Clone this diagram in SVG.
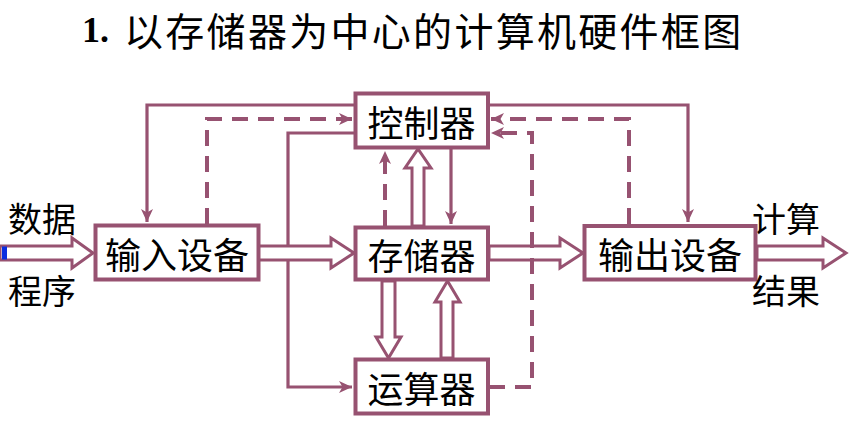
<svg xmlns="http://www.w3.org/2000/svg" width="852" height="425" viewBox="0 0 852 425">
<style>
.ln{fill:none;stroke:#975271;stroke-width:3.2}
.dash{stroke-dasharray:16 10;stroke-width:4}
.box{fill:#fff;stroke:#975271;stroke-width:4}
.hollow{fill:#fff;stroke:#975271;stroke-width:3;stroke-linejoin:miter}
.t{font-family:"Noto Sans CJK SC",sans-serif;fill:#000;text-anchor:middle;dominant-baseline:central}
.nt{font-size:36px}
.lb{font-size:34px}
</style>
<defs>
<marker id="ah" markerUnits="userSpaceOnUse" markerWidth="14" markerHeight="12" refX="13" refY="6" orient="auto">
<path d="M0,0 L13,6 L0,12 L3.5,6 Z" fill="#975271"/>
</marker>
</defs>
<rect width="852" height="425" fill="#fff"/>
<text x="82" y="42" style="font-family:'Liberation Serif',serif;font-weight:bold;font-size:36px">1.</text>
<text x="124" y="45.5" style="font-family:'Noto Sans CJK SC',sans-serif;font-size:39px;letter-spacing:2.3px">以存储器为中心的计算机硬件框图</text>

<g id="connectors">
<path class="ln" d="M356,105 H147 V222" marker-end="url(#ah)"/>
<path class="ln" d="M487,105 H688 V222" marker-end="url(#ah)"/>
<path class="ln dash" d="M207,224 V119 H352" marker-end="url(#ah)"/>
<path class="ln dash" d="M629,224 V119 H491" marker-end="url(#ah)"/>
<path class="ln" d="M356,133 H288 V387 H352" marker-end="url(#ah)"/>
<path class="ln dash" d="M385,226 V151" marker-end="url(#ah)"/>
<path class="ln" d="M451,149 V224" marker-end="url(#ah)"/>
<polygon class="hollow" points="258,246 331,246 331,238 354,253 331,268 331,260 258,260"/>
<polygon class="hollow" points="489,246 560,246 560,238 583,253 560,268 560,260 489,260"/>
<path class="ln dash" d="M489,387 H532 V133 H491" marker-end="url(#ah)"/>
<polygon class="hollow" points="0,246 72,246 72,238 93,253 72,268 72,260 0,260"/>
<rect x="2" y="246.5" width="5" height="13" fill="#0a2ee0"/>
<polygon class="hollow" points="757,246 823,246 823,238 846,253 823,268 823,260 757,260"/>
<polygon class="hollow" points="412,226 412,168 405,168 418,149 431,168 424,168 424,226"/>
<polygon class="hollow" points="382,281 382,337 376,337 388.5,358 401,337 395,337 395,281"/>
<polygon class="hollow" points="441,358 441,302 435,302 447.5,281 460,302 453,302 453,358"/>
</g>

<g id="input"><rect class="box" x="95.5" y="225.5" width="163" height="54"/><text class="t nt" x="177" y="253">输入设备</text></g>
<g id="control"><rect class="box" x="355.5" y="93.5" width="132.5" height="54"/><text class="t nt" x="421.5" y="120.5">控制器</text></g>
<g id="memory"><rect class="box" x="355.5" y="227.5" width="132.5" height="52"/><text class="t nt" x="421.5" y="253.5">存储器</text></g>
<g id="alu"><rect class="box" x="355.5" y="359.5" width="132.5" height="54"/><text class="t nt" x="421.5" y="386.5">运算器</text></g>
<g id="output"><rect class="box" x="584.5" y="226" width="171" height="53.5"/><text class="t nt" x="670" y="253">输出设备</text></g>

<g id="labels">
<text class="t lb" x="42" y="217">数据</text>
<text class="t lb" x="42" y="289">程序</text>
<text class="t lb" x="786" y="217">计算</text>
<text class="t lb" x="786" y="289">结果</text>
</g>
</svg>
